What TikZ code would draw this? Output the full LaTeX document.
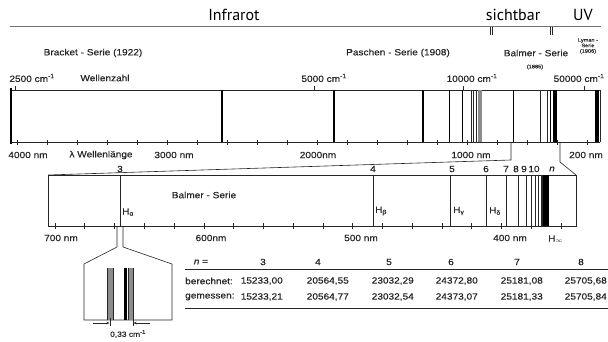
\documentclass[tikz,border=0pt]{standalone}
\usepackage{fontspec}
\setmainfont{Liberation Sans}[FakeStretch=1.12,FakeBold=0.5]
\newfontfamily\topfont{PT Sans}
\usetikzlibrary{arrows.meta}
\begin{document}
\begin{tikzpicture}[x=1pt,y=-1pt,
  lab/.style={font=\fontsize{9}{10}\selectfont,inner sep=0pt,text=black!85},
  tab/.style={font=\fontsize{9}{10}\selectfont,inner sep=0pt,text=black!85},
  tinylab/.style={font=\fontsize{5}{5.5}\selectfont,inner sep=0pt,text=black!85},
  big/.style={font=\topfont\fontsize{16}{18}\selectfont,inner sep=0pt},
  ln/.style={line width=0.9pt,draw=black!85},
  thin/.style={line width=0.6pt,draw=black!85}]
\useasboundingbox (0,0) rectangle (608,342);

% top region
\node[big] (ir) at (234,15) {Infrarot};
\node[big] (vis) at (513,15) {sichtbar};
\node[big] (uv) at (583,15) {UV};
\draw[line width=1pt,draw=black!55] (10,27) -- (601,27);
\draw[thin] (490,27) -- (490,35) (492,27) -- (492,35);
\draw[thin] (550,27) -- (550,35) (552,27) -- (552,35);

\node[lab] (brk) at (93,53) {Bracket - Serie (1922)};
\node[lab] (pas) at (398,53) {Paschen - Serie (1908)};
\node[lab] (bal) at (536,53) {Balmer - Serie};
\node[tinylab] (balyr) at (535,67) {(1885)};
\node[tinylab,align=center] (lym) at (588,46) {Lyman -\\Serie\\(1906)};

\node[lab] (w1) at (32,78) {2500 cm\textsuperscript{-1}};
\node[lab] (wz) at (105,78) {Wellenzahl};
\node[lab] (w2) at (324,78) {5000 cm\textsuperscript{-1}};
\node[lab] (w3) at (472,78) {10000 cm\textsuperscript{-1}};
\node[lab] (w4) at (579,78) {50000 cm\textsuperscript{-1}};

% main bar
\draw[ln] (10,90) -- (600,90);
\draw[ln] (10,142) -- (600,142);
\draw[line width=1.4pt] (11,88) -- (11,144);
\draw[thin] (600,90) -- (600,142);
\foreach \x in {15,314,463,584} \draw[thin] (\x,86) -- (\x,90);
\foreach \k in {0,...,19} \draw[thin] ({17+30*\k},140) -- ({17+30*\k},145);
\draw[line width=1.3pt] (222,90) -- (222,142);
\draw[line width=1.2pt] (334,90) -- (334,142);
\draw[line width=1.2pt] (423,90) -- (423,142);
\foreach \x in {449,462} \draw[line width=0.8pt] (\x,90) -- (\x,142);
\foreach \x in {471,473,476} \draw[thin] (\x,90) -- (\x,142);
\fill[black!45] (477.5,90) rectangle (481.5,142);
\draw[line width=0.8pt] (513,90) -- (513,142);
\foreach \x in {540,547} \draw[thin] (\x,90) -- (\x,142);
\draw[line width=0.8pt] (550,90) -- (550,142);
\fill[black] (553,90) rectangle (557,142);
\fill[black] (595,90) rectangle (598.5,142);

\node[lab] (l1) at (28,155) {4000 nm};
\node[lab] (lw) at (101,155) {λ Wellenlänge};
\node[lab] (l2) at (174,155) {3000 nm};
\node[lab] (l3) at (318,155) {2000nm};
\node[lab] (l4) at (471,155) {1000 nm};
\node[lab] (l5) at (586,155) {200 nm};

% zoom lines
\draw[thin] (511,142) -- (511,160) -- (48,175);
\draw[thin] (560,142) -- (560,162) -- (576,175);

% Balmer bar
\draw[ln] (48,175) rectangle (576,226);
\foreach \n in {3,...,20} {
  \pgfmathsetmacro\lx{120+(656.3-364.6*(\n*\n/(\n*\n-4)))*1.488}
  \draw[thin] (\lx,175) -- (\lx,226);
}
\fill[black] (543,175) rectangle (548.5,226);
\foreach \k in {0,...,17} \draw[thin] ({55+29.76*\k},223) -- ({55+29.76*\k},229);

\node[tab] (n3) at (120,169) {3};
\node[tab] (n4) at (373,169) {4};
\node[tab] (n5) at (452,169) {5};
\node[tab] (n6) at (486,169) {6};
\node[tab] (n7) at (506,169) {7};
\node[tab] (n8) at (516,169) {8};
\node[tab] (n9) at (524,169) {9};
\node[tab] (n10) at (534,169) {10};
\node[tab] (nn) at (552,169) {\textit{n}};

\node[tab] (bs) at (204,195) {Balmer - Serie};
\node[tab,anchor=west] (ha) at (122,212) {H\textsubscript{α}};
\node[tab,anchor=west] (hb) at (375,211) {H\textsubscript{β}};
\node[tab,anchor=west] (hg) at (453,211) {H\textsubscript{γ}};
\node[tab,anchor=west] (hd) at (489,211) {H\textsubscript{δ}};

\node[lab] (b1) at (61,238) {700 nm};
\node[lab] (b2) at (211,238) {600nm};
\node[lab] (b3) at (361,238) {500 nm};
\node[lab] (b4) at (510,238) {400 nm};
\node[tab,anchor=west] (hinf) at (548,239) {H$_{\infty}$};

% inset
\draw[thin] (117,226) -- (117,247) -- (84,264) -- (84,320) -- (172,320) -- (172,264) -- (123,247) -- (123,226);
\fill[black!45] (107,268) rectangle (113,320);
\draw[thin] (107,268) -- (107,320) (113,268) -- (113,320);
\fill[black] (124,268) rectangle (127,320);
\fill[black!45] (128.5,268) rectangle (133.5,320);
\draw[thin] (128.5,268) -- (128.5,320) (133.5,268) -- (133.5,320);
\draw[thin] (110,318) -- (110,326) (133,318) -- (133,326);
\draw[thin,-{Stealth[length=3pt,width=2.5pt]}] (93,323) -- (109.5,323);
\draw[thin,-{Stealth[length=3pt,width=2.5pt]}] (150,323) -- (133.5,323);
\node[lab,font=\fontsize{7.5}{9}\selectfont] (dist) at (128,334) {0,33 cm\textsuperscript{-1}};

% table
\node[tab] (tn) at (201,262) {\textit{n} =};
\node[tab] (t3) at (263,262) {3};
\node[tab] (t4) at (318,262) {4};
\node[tab] (t5) at (389,262) {5};
\node[tab] (t6) at (451,262) {6};
\node[tab] (t7) at (517,262) {7};
\node[tab] (t8) at (581,262) {8};
\draw[ln] (185,269) -- (608,269);
\draw[ln] (185,308) -- (608,308);
\node[tab,anchor=west] (rb) at (185,281) {berechnet:};
\node[tab,anchor=west] (rg) at (185,297) {gemessen:};
\node[tab,anchor=east] (b3v) at (283,281) {15233,00};
\node[tab,anchor=east] (b4v) at (349,281) {20564,55};
\node[tab,anchor=east] (b5v) at (414,281) {23032,29};
\node[tab,anchor=east] (b6v) at (478,281) {24372,80};
\node[tab,anchor=east] (b7v) at (543,281) {25181,08};
\node[tab,anchor=east] (b8v) at (607,281) {25705,68};
\node[tab,anchor=east] (g3v) at (283,297) {15233,21};
\node[tab,anchor=east] (g4v) at (349,297) {20564,77};
\node[tab,anchor=east] (g5v) at (414,297) {23032,54};
\node[tab,anchor=east] (g6v) at (478,297) {24373,07};
\node[tab,anchor=east] (g7v) at (543,297) {25181,33};
\node[tab,anchor=east] (g8v) at (607,297) {25705,84};
\end{tikzpicture}
\end{document}
